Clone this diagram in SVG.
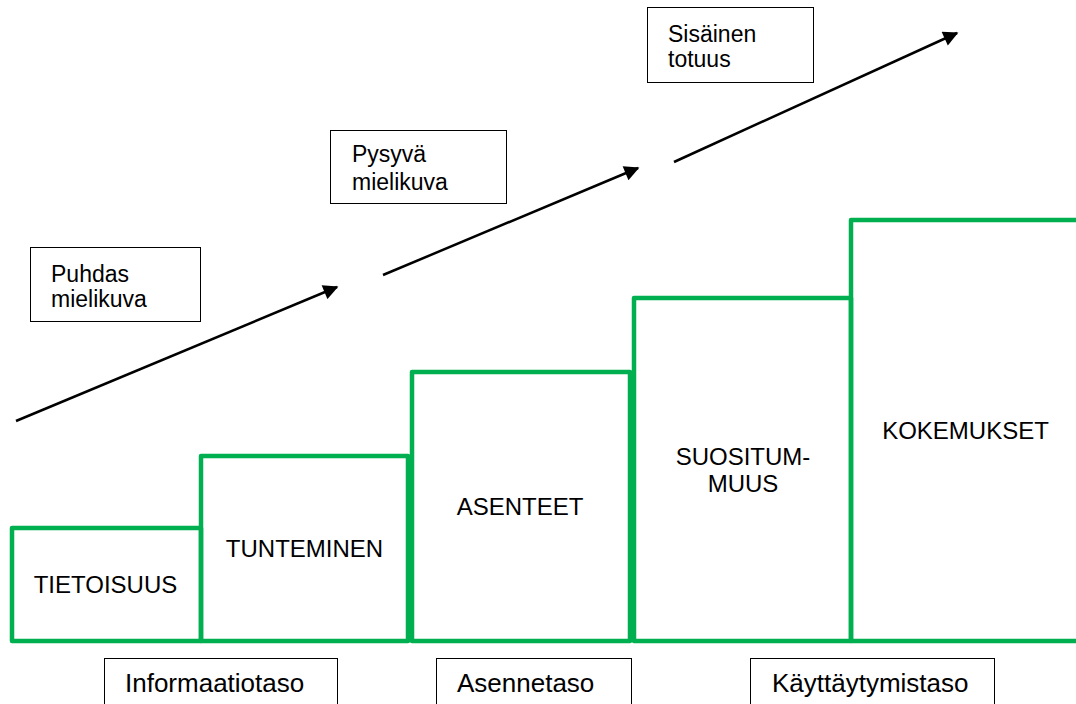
<svg xmlns="http://www.w3.org/2000/svg" width="1076" height="704" viewBox="0 0 1076 704">
<style>
.step{fill:none;stroke:#00B050;stroke-width:4.5;stroke-linejoin:round}
.box{fill:#fff;stroke:#000;stroke-width:1}
.t{font-family:"Liberation Sans",Arial,sans-serif;fill:#000}
.s{font-size:23px}
.u{font-size:24px;text-anchor:middle}
.b{font-size:26px}
.arr{stroke:#000;stroke-width:2.5;fill:none;marker-end:url(#ah)}
</style>
<defs>
<marker id="ah" viewBox="0 0 10 10" refX="9" refY="5" markerWidth="7" markerHeight="6" markerUnits="strokeWidth" orient="auto">
<path d="M0,0 L10,5 L0,10 z" fill="#000"/>
</marker>
</defs>
<rect width="1076" height="704" fill="#fff"/>
<g id="connectors">
<line class="arr" x1="16" y1="421" x2="337" y2="287"/>
<line class="arr" x1="383" y1="275" x2="638" y2="168"/>
<line class="arr" x1="674" y1="162" x2="957" y2="33"/>
</g>
<g id="puhdas">
<rect class="box" x="30.5" y="247.5" width="170" height="74"/>
<text class="t s" x="51" y="282">Puhdas</text>
<text class="t s" x="51" y="307">mielikuva</text>
</g>
<g id="pysyva">
<rect class="box" x="330.5" y="130.5" width="176" height="73"/>
<text class="t s" x="352" y="162">Pysyvä</text>
<text class="t s" x="352" y="190">mielikuva</text>
</g>
<g id="sisainen">
<rect class="box" x="647.5" y="7.5" width="166" height="75"/>
<text class="t s" x="668" y="42">Sisäinen</text>
<text class="t s" x="668" y="67">totuus</text>
</g>
<g id="tietoisuus">
<rect class="step" x="12" y="528" width="189" height="113"/>
<text class="t u" x="105.5" y="593">TIETOISUUS</text>
</g>
<g id="tunteminen">
<rect class="step" x="201" y="456" width="207" height="185"/>
<text class="t u" x="304.5" y="557">TUNTEMINEN</text>
</g>
<g id="asenteet">
<rect class="step" x="412" y="372" width="218" height="269"/>
<text class="t u" x="520" y="515">ASENTEET</text>
</g>
<g id="suositummuus">
<rect class="step" x="634" y="298" width="217" height="343"/>
<text class="t u" x="743" y="465">SUOSITUM-</text>
<text class="t u" x="743" y="492">MUUS</text>
</g>
<g id="kokemukset">
<rect class="step" x="851" y="220" width="250" height="421"/>
<text class="t u" x="965.5" y="439">KOKEMUKSET</text>
</g>
<g id="informaatiotaso">
<rect class="box" x="104.5" y="658.5" width="233" height="60"/>
<text class="t b" x="125" y="692">Informaatiotaso</text>
</g>
<g id="asennetaso">
<rect class="box" x="436.5" y="658.5" width="195" height="60"/>
<text class="t b" x="457" y="692">Asennetaso</text>
</g>
<g id="kayttaytymistaso">
<rect class="box" x="750.5" y="658.5" width="244" height="60"/>
<text class="t b" x="772" y="692">Käyttäytymistaso</text>
</g>
</svg>
